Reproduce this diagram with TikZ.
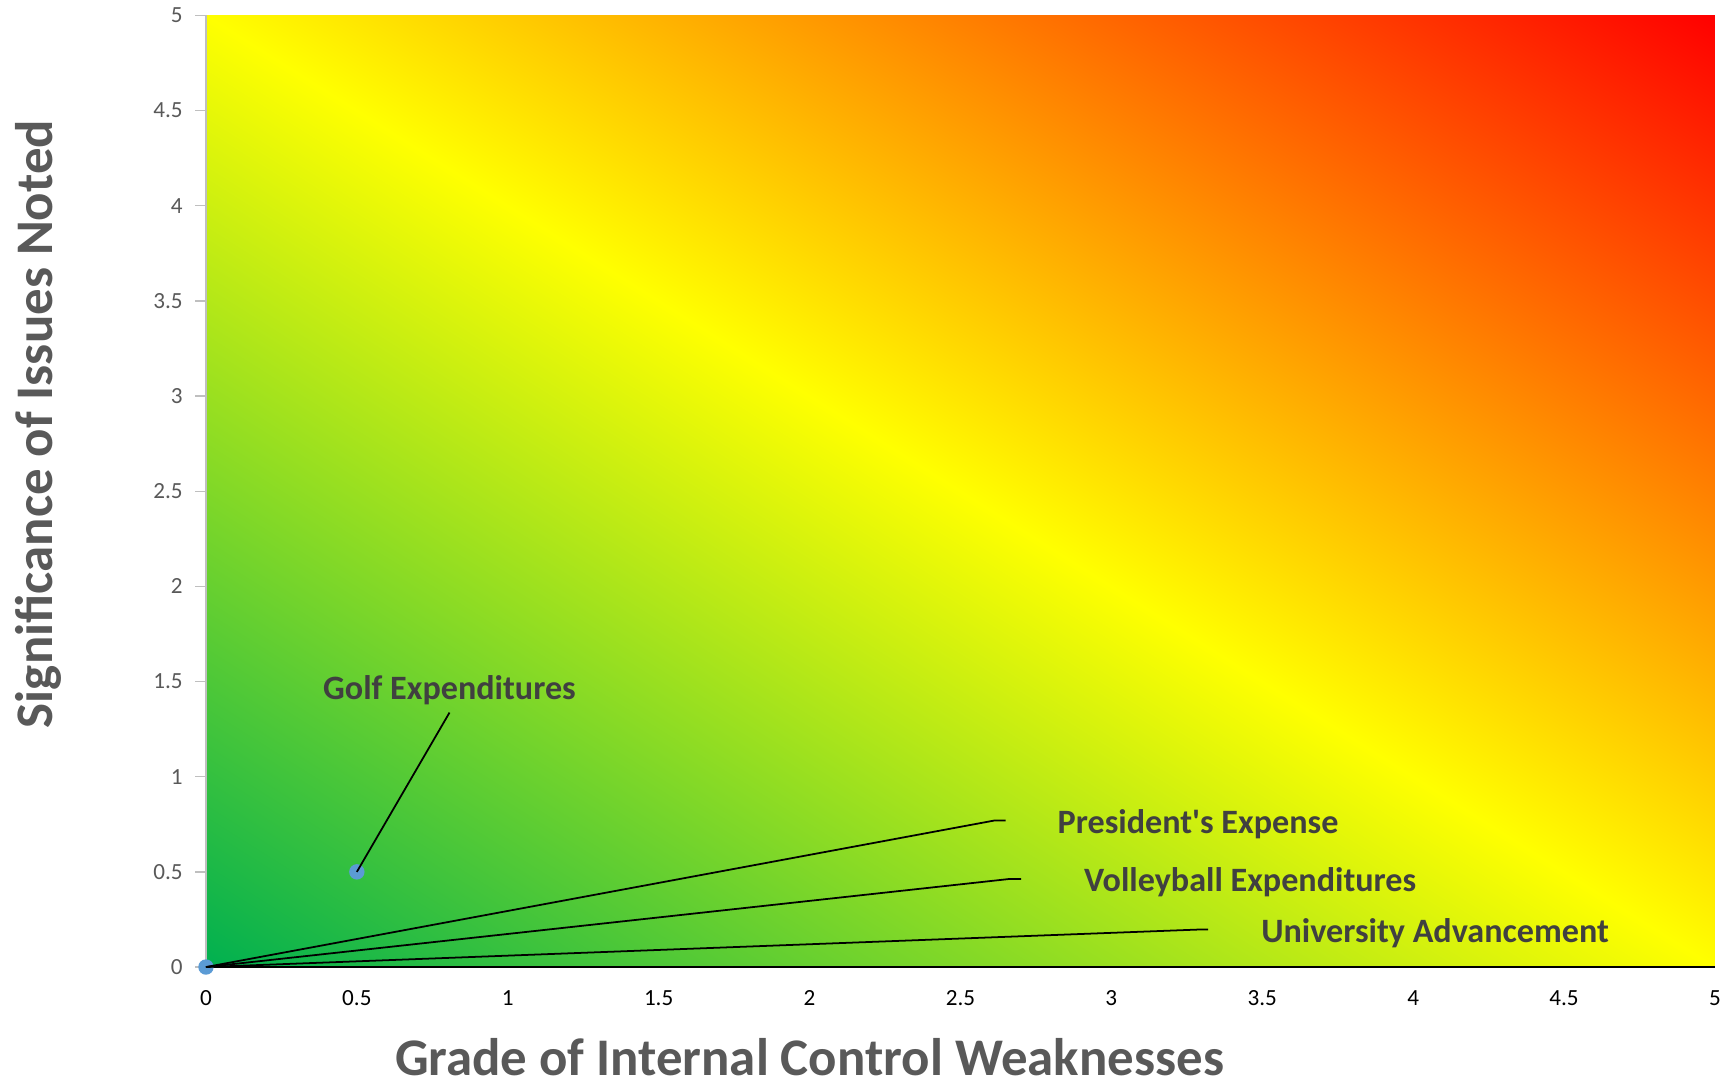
\documentclass[tikz,border=0pt]{standalone}
\usepackage{fontspec}
\setmainfont{Carlito}
\usetikzlibrary{positioning}

\definecolor{axisgray}{HTML}{595959}
\definecolor{labelgray}{HTML}{404040}
\definecolor{linegray}{HTML}{BFBFBF}
\definecolor{markblue}{HTML}{5B9BD5}

\pgfdeclarefunctionalshading{riskmap}{\pgfpointorigin}{\pgfpoint{100bp}{100bp}}{}{
  add 50 sub 100 div
  dup 0 lt {pop 0} if
  dup 1 gt {pop 1} if
  dup 0.5 lt
  {2 mul dup dup 0.31 mul 0.69 add exch 1 exch sub 0.314 mul}
  {2 mul 2 exch sub 1 exch 0}
  ifelse
}

\tikzstyle{ytick} = [text=axisgray, font=\fontsize{21}{25}\selectfont, anchor=east, inner sep=0pt]
\tikzstyle{xtick} = [text=black, font=\fontsize{21}{25}\selectfont, inner sep=0pt]
\tikzstyle{axistitle} = [text=axisgray, font=\bfseries\fontsize{48}{56}\selectfont, inner sep=0pt]
\tikzstyle{datalabel} = [text=labelgray, font=\bfseries\fontsize{31}{37}\selectfont, inner sep=0pt]
\tikzstyle{leader} = [draw, black, line width=1.6pt]
\tikzstyle{marker} = [circle, fill=markblue, minimum size=14pt, inner sep=0pt]

\begin{document}
\begin{tikzpicture}[x=274pt, y=172.8pt]
    \useasboundingbox (-0.6825,-0.5961) rectangle (5.0401,5.0810);
    \shade [shading=riskmap] (0,0) rectangle (5,5);

    \draw [linegray, line width=1.2pt] (0,0) -- (0,5);
    \foreach \v [count=\i] in {0,0.5,1,1.5,2,2.5,3,3.5,4,4.5,5} {
        \draw [linegray, line width=1.2pt] (0,\v) -- ++(-10pt,0);
        \node [ytick] (yt\i) at ([xshift=-21pt]0,\v) {\v};
        \node [xtick] (xt\i) at ([yshift=-28pt]\v,0) {\v};
    }
    \draw [black, line width=2pt] (0,0) -- (5,0);

    \coordinate (origin) at (0,0);
    \coordinate (golf) at (0.5,0.5);
    \coordinate (golftop) at (0.807,1.337);
    \coordinate (presknee) at (2.613,0.770);
    \coordinate (presend) at (2.650,0.770);
    \coordinate (volleyknee) at (2.664,0.463);
    \coordinate (volleyend) at (2.701,0.463);
    \coordinate (univknee) at (3.290,0.197);
    \coordinate (univend) at (3.321,0.197);

    \node [marker] (originpt) at (origin) {};
    \node [marker] (golfpt) at (golf) {};

    \node [datalabel, above=7pt of golftop] (golflabel) {Golf Expenditures};
    \node [datalabel, right=47pt of presend, yshift=-3pt] (preslabel) {President\textquotesingle s Expense};
    \node [datalabel, right=57pt of volleyend, yshift=-3pt] (volleylabel) {Volleyball Expenditures};
    \node [datalabel, right=48pt of univend, yshift=-3pt] (univlabel) {University Advancement};

    \draw [leader] (golfpt.center) -- (golftop);
    \draw [leader] (originpt.center) -- (presknee) -- (presend);
    \draw [leader] (originpt.center) -- (volleyknee) -- (volleyend);
    \draw [leader] (originpt.center) -- (univknee) -- (univend);

    \node [axistitle] (xtitle) at (2.0,-0.4745) {Grade of Internal Control Weaknesses};
    \node [axistitle, rotate=90] (ytitle) at (-0.555,2.853) {Significance of Issues Noted};
\end{tikzpicture}
\end{document}
